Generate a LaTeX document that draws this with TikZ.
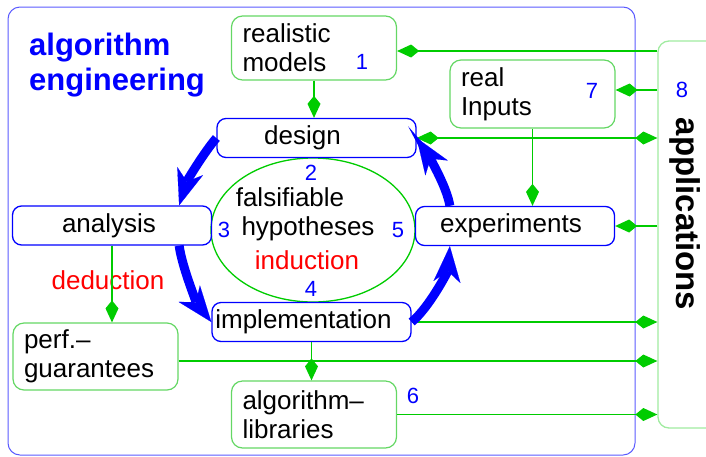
\documentclass[tikz,border=0pt]{standalone}
\usepackage{fontspec}
\setmainfont{Liberation Sans}
\usetikzlibrary{arrows.meta}
\definecolor{lgreen}{RGB}{0,204,0}
\definecolor{pgreen}{RGB}{100,215,100}
\definecolor{appgreen}{RGB}{160,235,160}
\definecolor{frameblue}{RGB}{90,90,255}

\begin{document}
\begin{tikzpicture}[x=1pt, y=-1pt, >={Kite[length=22pt,width=13pt,inset=8pt]},
  every node/.style={font=\fontsize{26}{29}\selectfont, inner sep=0pt},
  stage/.style={draw=blue, line width=1.3pt, rounded corners=9pt,
    minimum width=199pt, minimum height=39pt},
  source/.style={draw=pgreen, line width=1.2pt, rounded corners=11pt,
    minimum width=165pt, minimum height=67pt, inner xsep=11pt,
    text width=143pt, align=left},
  link/.style={lgreen, line width=1.5pt},
  flow/.style={blue, line width=9pt,
    -{Stealth[length=36pt,width=27pt,inset=11pt,line width=0.1pt]}},
  num/.style={text=blue, font=\fontsize{22}{24}\selectfont},
  note/.style={text=red}]
\clip (0,0) rectangle (706,456);

\draw[frameblue, line width=1pt, rounded corners=12pt] (8,7) rectangle (635,455);
\draw[lgreen, line width=1.3pt] (313,230) ellipse [x radius=102pt, y radius=72pt];

\node[text=blue, font=\bfseries\fontsize{31}{35}\selectfont, anchor=base west,
  text width=200pt, align=left] (title) at (29,55) {algorithm\\engineering};

\node[source, minimum height=64pt] (models) at (314,48) {realistic\\models};
\node[source, minimum height=68pt] (inputs) at (532.5,94) {real\\Inputs};
\node[stage] (design) at (316.5,138) {design\hspace*{28pt}};
\node[stage] (analysis) at (112,225.5) {analysis\hspace*{6pt}};
\node[stage] (experiments) at (515,226) {experiments\hspace*{8pt}};
\node[stage] (implementation) at (311.5,322) {implementation\hspace*{16pt}};
\node[source] (perf) at (95.5,356.5) {perf.--\\guarantees};
\node[source] (libraries) at (314,414.5) {algorithm--\\libraries};
\node[draw=appgreen, line width=1.3pt, rounded corners=11pt,
  minimum width=102pt, minimum height=387pt] (apps) at (709,234.5) {};
\node[rotate=-90, font=\bfseries\fontsize{33}{36}\selectfont] (apptitle) at (685,214) {applications};

\node[anchor=base] (falsifiable) at (290,206.5) {falsifiable};
\node[anchor=base] (hypotheses) at (308,235) {hypotheses};
\node[note, anchor=base] (induction) at (307,269) {induction};
\node[note, anchor=base] (deduction) at (108,289) {deduction};

\foreach \n/\x/\y in {1/362/62, 2/311/173, 3/224/230, 4/311/289,
                      5/398/230, 6/413/396, 7/592/91, 8/682/90}
  \node[num] (num\n) at (\x,\y) {\n};

\draw[link,->] (models.south) -- (models.south |- design.north);
\coordinate (mline) at ([yshift=-3pt]models.east);
\draw[link,->] (apps.west |- mline) -- (mline);
\coordinate (iline) at ([yshift=4pt]inputs.east);
\draw[link,->] (apps.west |- iline) -- (iline);
\draw[link,<->] (design.east) -- (apps.west |- design.east);
\draw[link,->] (inputs.south) -- (inputs.south |- experiments.north);
\draw[link,->] (apps.west |- experiments.east) -- (experiments.east);
\draw[link,->] (analysis.south) -- (analysis.south |- perf.north);
\draw[link,->] (implementation.south) -- (implementation.south |- libraries.north);
\coordinate (pline) at ([yshift=-4.5pt]perf.east);
\foreach \from in {implementation.east, pline, libraries.east}
  \draw[link,->] (\from) -- (apps.west |- \from);

\draw[flow] (design.west) .. controls +(-12,14) and +(8,-25) .. ([xshift=-33pt]analysis.north east);
\draw[flow] ([xshift=-33pt]analysis.south east) .. controls +(3,22) and +(-14,-18) .. (implementation.west);
\draw[flow] (implementation.east) .. controls +(18,-15) and +(-2,25) .. ([xshift=35pt]experiments.south west);
\draw[flow] ([xshift=35pt]experiments.north west) .. controls +(-3,-20) and +(10,15) .. (design.east);
\end{tikzpicture}
\end{document}
